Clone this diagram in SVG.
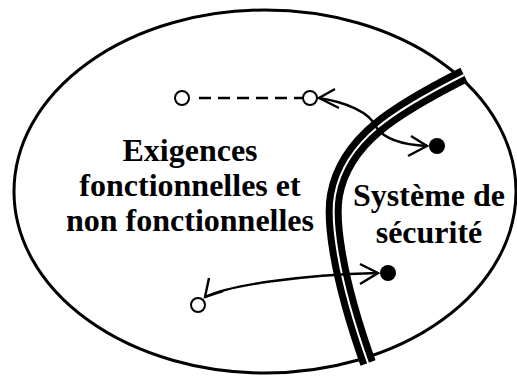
<svg xmlns="http://www.w3.org/2000/svg" width="517" height="379" viewBox="0 0 517 379">
<style>
.line{fill:none;stroke:#000;stroke-width:2.4}
.lbl{font-family:"Liberation Serif","Times New Roman",serif;font-weight:bold;font-size:32px;fill:#000;text-anchor:middle}
.open{fill:#fff;stroke:#000;stroke-width:2}
.full{fill:#000;stroke:none}
</style>
<rect width="517" height="379" fill="#fff"/>
<g id="boundary">
<ellipse cx="265" cy="191.5" rx="251" ry="181.5" fill="none" stroke="#000" stroke-width="3"/>
</g>
<g id="barrier">
<path d="M464,75 C395,110 345,140 335,195 C331,217 335,270 368,363" fill="none" stroke="#000" stroke-width="16"/>
<path d="M464,75 C395,110 345,140 335,195 C331,217 335,270 368,363 L370,379" fill="none" stroke="#fff" stroke-width="2"/>
</g>
<g id="connectors">
<line x1="199" y1="98" x2="303" y2="98" class="line" stroke-dasharray="12 7"/>
<path class="line" d="M319,98 C345,102 370,112 376,127 C385,140 405,145 427,146"/>
<path class="line" d="M335,89 L319,98 L339,108"/>
<path class="line" d="M411,136 L427,146 L408,156"/>
<path class="line" d="M205,297 C230,285 300,275 378,273"/>
<path class="line" d="M209,278 L205,297 L223,291"/>
<path class="line" d="M360,264 L378,273 L360,284"/>
</g>
<g id="node-open-1"><circle cx="182" cy="98" r="7" class="open"/></g>
<g id="node-open-2"><circle cx="310" cy="98" r="7" class="open"/></g>
<g id="node-open-3"><circle cx="198" cy="305" r="7" class="open"/></g>
<g id="node-full-1"><circle cx="437" cy="146" r="8" class="full"/></g>
<g id="node-full-2"><circle cx="388" cy="273" r="8" class="full"/></g>
<g id="label-exigences">
<text class="lbl" x="190" y="161">Exigences</text>
<text class="lbl" x="190" y="196">fonctionnelles et</text>
<text class="lbl" x="190" y="231">non fonctionnelles</text>
</g>
<g id="label-systeme">
<text class="lbl" x="429" y="206">Système de</text>
<text class="lbl" x="429" y="243">sécurité</text>
</g>
</svg>
